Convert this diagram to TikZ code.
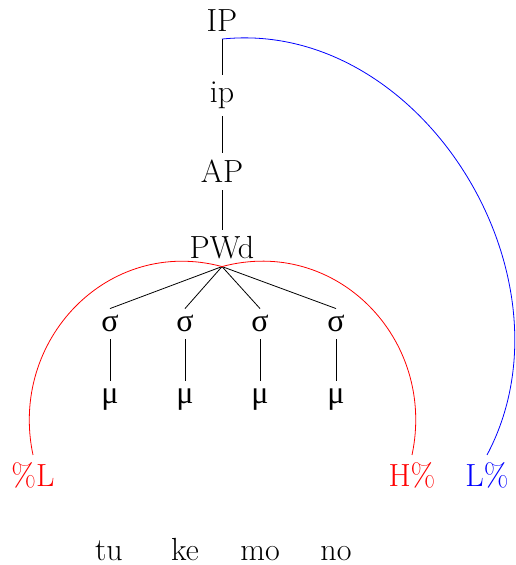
\documentclass[tikz,border=0pt]{standalone}
\usepackage{fontspec}
\newfontfamily\greekfont{Liberation Serif}

\begin{document}
\begin{tikzpicture}[
    x=0.5pt, y=0.5pt,
    lab/.style={anchor=base, font=\fontsize{16}{19}\selectfont},
    gk/.style={anchor=base, font=\fontsize{16}{19}\selectfont\greekfont},
    tone/.style={lab, text=red},
    bdry/.style={lab, text=blue},
]
\useasboundingbox (0,0) rectangle (515,-565);

% =================================================================
%  PROSODIC HIERARCHY
% =================================================================
\node[lab] (IP)  at (222,-32)  {IP};
\node[lab] (ip)  at (222,-103) {ip};
\node[lab] (AP)  at (222,-183) {AP};
\node[lab] (PWd) at (222,-259) {PWd};

\draw (IP.south) -- (ip.north);
\draw (ip.south) -- (AP.north);
\draw (AP.south) -- (PWd.north);

% =================================================================
%  SYLLABLES AND MORAS
% =================================================================
\node[gk] (s1) at (110,-332) {σ};
\node[gk] (s2) at (185,-332) {σ};
\node[gk] (s3) at (260,-332) {σ};
\node[gk] (s4) at (336,-332) {σ};

\node[gk] (m1) at (110,-403) {μ};
\node[gk] (m2) at (185,-403) {μ};
\node[gk] (m3) at (260,-403) {μ};
\node[gk] (m4) at (336,-403) {μ};

\draw (PWd.south) -- (s1.north);
\draw (PWd.south) -- (s2.north);
\draw (PWd.south) -- (s3.north);
\draw (PWd.south) -- (s4.north);

\draw (s1.south) -- (m1.north);
\draw (s2.south) -- (m2.north);
\draw (s3.south) -- (m3.north);
\draw (s4.south) -- (m4.north);

% =================================================================
%  BOUNDARY TONES
% =================================================================
\node[tone] (pL) at (33,-486)  {\%L};
\node[tone] (Hp) at (412,-486) {H\%};
\node[bdry] (Lp) at (487,-486) {L\%};

\draw[red]  (PWd.south) to[out=165, in=102, looseness=1.13] (pL.north);
\draw[red]  (PWd.south) to[out=15,  in=78,  looseness=1.13] (Hp.north);
\draw[blue] (IP.south)  to[out=6,   in=62,  looseness=1.04] (Lp.north);

% =================================================================
%  SEGMENTS
% =================================================================
\node[lab] (tu) at (109,-560) {tu};
\node[lab] (ke) at (185,-560) {ke};
\node[lab] (mo) at (260,-560) {mo};
\node[lab] (no) at (336,-560) {no};

\end{tikzpicture}
\end{document}
